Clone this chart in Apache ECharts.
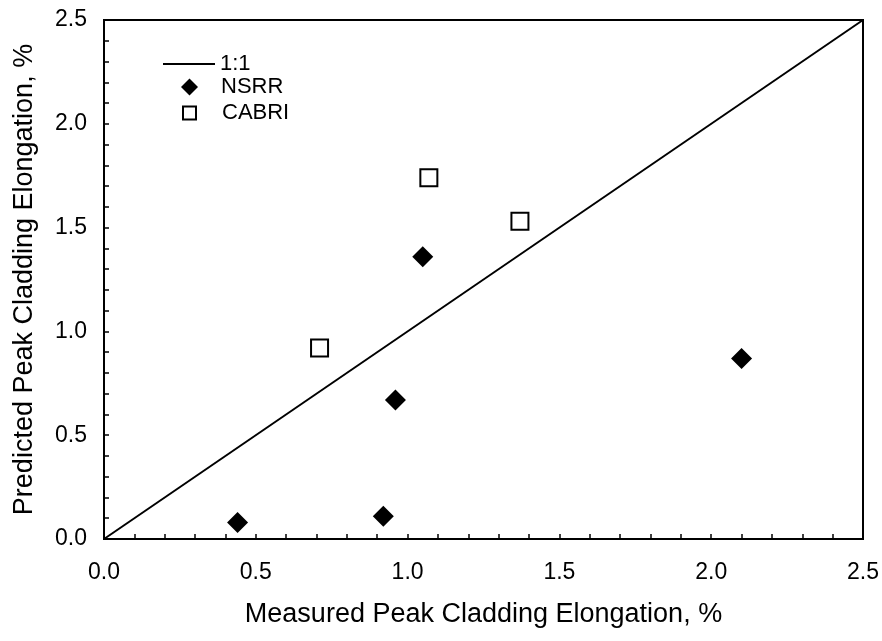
<!DOCTYPE html>
<html>
<head>
<meta charset="utf-8">
<script src="https://cdn.jsdelivr.net/npm/echarts@6/dist/echarts.min.js"></script>
<style>
  html, body { margin: 0; padding: 0; background: #fff; }
  #chart { width: 882px; height: 641px; }
</style>
</head>
<body>
<div id="chart"></div>
<script>
// Measured vs predicted peak cladding elongation (%)
const nsrrMeasured = [0.44, 0.92, 0.96, 1.05, 2.10];
const nsrrPredicted = [0.08, 0.11, 0.67, 1.36, 0.87];
const cabriMeasured = [0.71, 1.07, 1.37];
const cabriPredicted = [0.92, 1.74, 1.53];
const identityLine = [0, 2.5];

const FONT = 'Liberation Sans, Arial, Helvetica, sans-serif';
const chart = echarts.init(document.getElementById('chart'));

const axisCommon = {
  type: 'value',
  min: 0,
  max: 2.5,
  interval: 0.5,
  axisLine: { show: true, onZero: false, lineStyle: { color: '#000', width: 2 } },
  axisTick: { show: true, inside: true, length: 5, lineStyle: { color: '#000', width: 1.5 } },
  minorTick: { show: true, splitNumber: 5, length: 5, lineStyle: { color: '#000', width: 1.5 } },
  splitLine: { show: false },
  axisLabel: {
    color: '#000',
    fontFamily: FONT,
    fontSize: 23,
    formatter: v => v.toFixed(1)
  },
  nameLocation: 'middle',
  nameTextStyle: { color: '#000', fontFamily: FONT, fontSize: 27 }
};

const legendText = { color: '#000', fontFamily: FONT, fontSize: 22 };

chart.setOption({
  animation: false,
  backgroundColor: '#fff',
  grid: { left: 104, right: 19, top: 20, bottom: 102, show: true, borderColor: '#000', borderWidth: 2, containLabel: false },
  legend: [
    {
      selectedMode: false,
      padding: 0,
      left: 163, top: 53,
      itemWidth: 52, itemHeight: 2,
      textStyle: legendText,
      data: [{ name: '1:1', icon: 'rect' }]
    },
    {
      selectedMode: false,
      padding: 0,
      left: 181, top: 76,
      itemWidth: 17, itemHeight: 17,
      textStyle: Object.assign({}, legendText, { padding: [0, 0, 0, 18] }),
      data: [{ name: 'NSRR', icon: 'diamond' }]
    },
    {
      selectedMode: false,
      padding: 0,
      left: 182, top: 102,
      itemWidth: 13, itemHeight: 13,
      textStyle: Object.assign({}, legendText, { padding: [0, 0, 0, 21] }),
      data: [{ name: 'CABRI', icon: 'rect' }]
    }
  ],
  xAxis: Object.assign({}, axisCommon, {
    name: 'Measured Peak Cladding Elongation, %',
    nameGap: 62,
    axisLabel: Object.assign({}, axisCommon.axisLabel, { margin: 22 })
  }),
  yAxis: Object.assign({}, axisCommon, {
    name: 'Predicted Peak Cladding Elongation, %',
    nameGap: 66,
    axisLabel: Object.assign({}, axisCommon.axisLabel, { margin: 17 })
  }),
  series: [
    {
      name: '1:1',
      type: 'line',
      data: identityLine.map(v => [v, v]),
      symbol: 'none',
      lineStyle: { color: '#000', width: 2 },
      itemStyle: { color: '#000' },
      z: 1
    },
    {
      name: 'NSRR',
      type: 'scatter',
      data: nsrrMeasured.map((x, i) => [x, nsrrPredicted[i]]),
      symbol: 'diamond',
      symbolSize: 21,
      itemStyle: { color: '#000', opacity: 1 },
      z: 3
    },
    {
      name: 'CABRI',
      type: 'scatter',
      data: cabriMeasured.map((x, i) => [x, cabriPredicted[i]]),
      symbol: 'rect',
      symbolSize: 17,
      itemStyle: { color: '#fff', borderColor: '#000', borderWidth: 2, opacity: 1 },
      z: 3
    }
  ]
});
</script>
</body>
</html>
